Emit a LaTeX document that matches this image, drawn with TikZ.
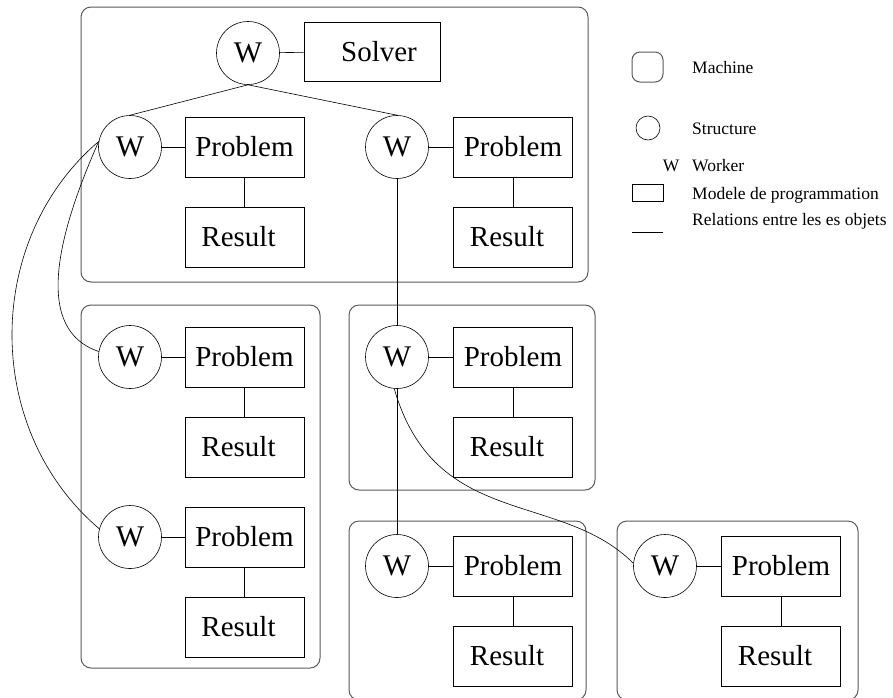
\documentclass[tikz,border=0pt]{standalone}
\usepackage{fontspec}
\setmainfont{Liberation Serif}
\begin{document}
\begin{tikzpicture}[x=1pt,y=-1pt,
  machine/.style={draw=black!65, line width=1pt, rounded corners=10pt},
  worker/.style={draw, circle, minimum size=63pt, inner sep=0pt, line width=0.6pt,
                 font=\fontsize{30}{34}\selectfont},
  obj/.style={draw, rectangle, minimum width=119pt, minimum height=60pt, inner sep=0pt,
              line width=0.8pt, font=\fontsize{29}{34}\selectfont},
  link/.style={line width=0.6pt},
  legend/.style={anchor=west, inner sep=0pt, font=\fontsize{17.5}{20}\selectfont}]
\useasboundingbox (0,0) rectangle (893,697);

% machines
\draw[machine] (81,7) rectangle (588,282);
\draw[machine] (81,305) rectangle (320,668);
\draw[machine] (349,305) rectangle (595,490);
\draw[machine] (349,521) rectangle (586,700);
\draw[machine] (617,521) rectangle (858,700);

% solver
\node[worker] (w0) at (248,53) {W};
\node[obj, minimum width=136pt, minimum height=59pt] (s0) at (372,51.5) {\hspace*{14pt}Solver};
\draw[link] (w0) -- (s0);

% workers with their problem and result
\newcommand{\workerrow}[4]{%
  \node[worker] (w#1) at (#2,#4) {W};
  \node[obj] (p#1) at (#3,#4) {Problem};
  \node[obj] (r#1) at (#3,#4+90) {Result\hspace*{12pt}};
  \draw[link] (w#1) -- (p#1);
  \draw[link] (p#1) -- (r#1);
}
\workerrow{1}{130}{244.5}{147}
\workerrow{2}{397}{513}{147}
\workerrow{3}{130}{244.5}{357}
\workerrow{5}{130}{244.5}{537}
\workerrow{4}{397}{513}{357}
\workerrow{6}{397}{513}{566}
\workerrow{7}{665}{781}{566}

% relations between workers
\draw[link] (w0.south) -- (w1.north);
\draw[link] (w0.south) -- (w2.north);
\draw[link] (w2) -- (w4);
\draw[link] (w4) -- (w6);
\draw[link] (w1.170) .. controls (55,240) and (35,330) .. (w3.170);
\draw[link] (w1.170) .. controls (-17,240) and (-17,430) .. (w5.165);
\draw[link] (w4.265) .. controls (435,530) and (560,490) .. (w7.175);

% legend
\draw[machine, rounded corners=8pt] (632,52) rectangle (663,82);
\node[legend] (lm) at (692,68) {Machine};
\draw[link] (648,128) circle (12pt);
\node[legend] (ls) at (692,129) {Structure};
\node[legend, anchor=center] (lw0) at (671,166) {W};
\node[legend] (lw) at (692,166) {Worker};
\draw[line width=0.8pt] (632,184) rectangle (663,201);
\node[legend] (lp) at (692,195) {Modele de programmation};
\draw[line width=0.8pt] (632,232) -- (663,232);
\node[legend] (lr) at (692,221) {Relations entre les es objets};
\end{tikzpicture}
\end{document}
